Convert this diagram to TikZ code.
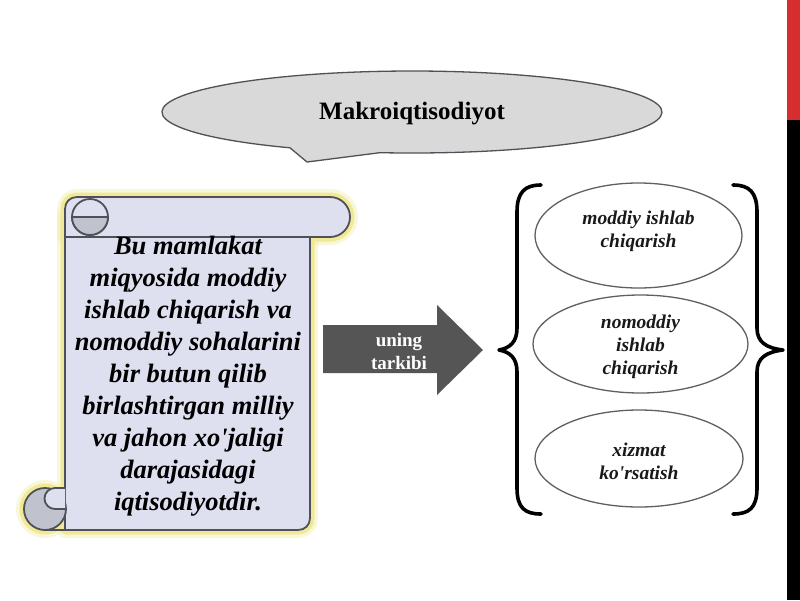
\documentclass[tikz,border=0pt]{standalone}
\usepackage{fontspec}
\setmainfont{Liberation Serif}
\usetikzlibrary{shapes.geometric}
\definecolor{scrollfill}{RGB}{222,224,240}
\definecolor{rollgray}{RGB}{192,194,206}
\definecolor{edgegray}{RGB}{80,80,88}
\definecolor{glowcol}{RGB}{240,234,150}
\definecolor{calloutfill}{RGB}{217,217,217}
\definecolor{arrowgray}{RGB}{85,85,85}
\definecolor{barred}{RGB}{214,46,46}
\definecolor{ellgray}{RGB}{96,96,96}
\tikzset{
  scrolledge/.style={draw=edgegray, line width=1.8, fill=scrollfill},
  glowwide/.style={draw=glowcol, line width=16, opacity=0.35},
  glownarrow/.style={draw=glowcol, line width=9},
  bracestyle/.style={draw=black, line width=3.6, line cap=round},
  ovalbox/.style={ellipse, draw=ellgray, line width=1.3, fill=white, inner sep=0pt},
  ovaltext/.style={font=\bfseries\itshape\fontsize{19.5}{23}\selectfont, align=center, text=black!90},
}
\begin{document}
\begin{tikzpicture}[x=1pt,y=-1pt,line join=round]
\useasboundingbox (0,0) rectangle (800,600);
\fill[white] (0,0) rectangle (800,600);
% side bar
\fill[barred] (787,0) rectangle (800,120);
\fill[black] (787,120) rectangle (800,600);

% callout
\draw[fill=calloutfill, draw=edgegray, line width=1.3]
  (290,147.8) arc[start angle=119.2, end angle=457.35, x radius=250, y radius=41]
  -- (307,162) -- cycle;
\node[font=\bfseries\fontsize{25}{30}\selectfont] (title) at (412,114) {Makroiqtisodiyot};

% scroll glow
\foreach \gs in {glowwide,glownarrow}{
  \draw[\gs] (65,215) -- (65,530) -- (298,530) .. controls (305,530) and (310,525) .. (310,518) -- (310,230) -- cycle;
  \draw[\gs] (65,237) -- (65,209) .. controls (65,202) and (70,197) .. (77,197) -- (330,197)
    arc[start angle=-90, end angle=90, radius=20] -- cycle;
  \draw[\gs] (45,509) circle[radius=21];
}
% scroll body
\draw[scrolledge] (65,215) -- (65,530) -- (298,530) .. controls (305,530) and (310,525) .. (310,518) -- (310,230) -- cycle;
% top roll
\draw[scrolledge] (65,237) -- (65,209) .. controls (65,202) and (70,197) .. (77,197) -- (330,197)
  arc[start angle=-90, end angle=90, radius=20] -- cycle;
\draw[scrolledge] (90,217) circle[radius=18];
\draw[scrolledge, fill=rollgray] (108,217) arc[start angle=0, end angle=180, radius=18] -- cycle;
% bottom roll
\draw[scrolledge, fill=rollgray] (45,509) circle[radius=21];
\draw[scrolledge] (65,488) -- (55,488) arc[start angle=-90, end angle=-270, radius=10.5] -- (65,509);
\draw[draw=edgegray, line width=1.8] (45,530) -- (66,530);

\node[font=\bfseries\itshape\fontsize{26.5}{32}\selectfont, align=center] (scrolltext) at (188,376)
  {Bu mamlakat\\ miqyosida moddiy\\ ishlab chiqarish va\\ nomoddiy sohalarini\\ bir butun qilib\\
   birlashtirgan milliy\\ va jahon xo\textquotesingle jaligi\\ darajasidagi\\ iqtisodiyotdir.};

% block arrow
\fill[arrowgray] (323,325) -- (437,325) -- (437,305) -- (483,350) -- (437,395) -- (437,373) -- (323,373) -- cycle;
\node[text=white, font=\bfseries\fontsize{19}{23}\selectfont, align=center] (arrowtext) at (399,351) {uning\\tarkibi};

% braces
\draw[bracestyle] (541,185) .. controls (525,185) and (517,192) .. (517,212) -- (517,328)
  .. controls (517,342) and (510,348) .. (499,350) .. controls (510,352) and (517,358) .. (517,372)
  -- (517,488) .. controls (517,508) and (525,514) .. (541,514);
\draw[bracestyle] (733,185) .. controls (749,185) and (757,192) .. (757,212) -- (757,328)
  .. controls (757,342) and (766,348) .. (783,350) .. controls (766,352) and (757,358) .. (757,372)
  -- (757,488) .. controls (757,508) and (749,514) .. (733,514);

% ellipses
\node[ovalbox, minimum width=207, minimum height=105] (e1) at (638.5,235.5) {};
\node[ovalbox, minimum width=215, minimum height=98] (e2) at (640.5,344) {};
\node[ovalbox, minimum width=208, minimum height=97] (e3) at (639,458.5) {};
\node[ovaltext] (t1) at ([yshift=4.5pt]e1.center) {moddiy ishlab\\chiqarish};
\node[ovaltext] (t2) at ([yshift=-2.5pt]e2.center) {nomoddiy\\ishlab\\chiqarish};
\node[ovaltext] (t3) at ([yshift=-3pt]e3.center) {xizmat\\ko\textquotesingle rsatish};
\end{tikzpicture}
\end{document}
